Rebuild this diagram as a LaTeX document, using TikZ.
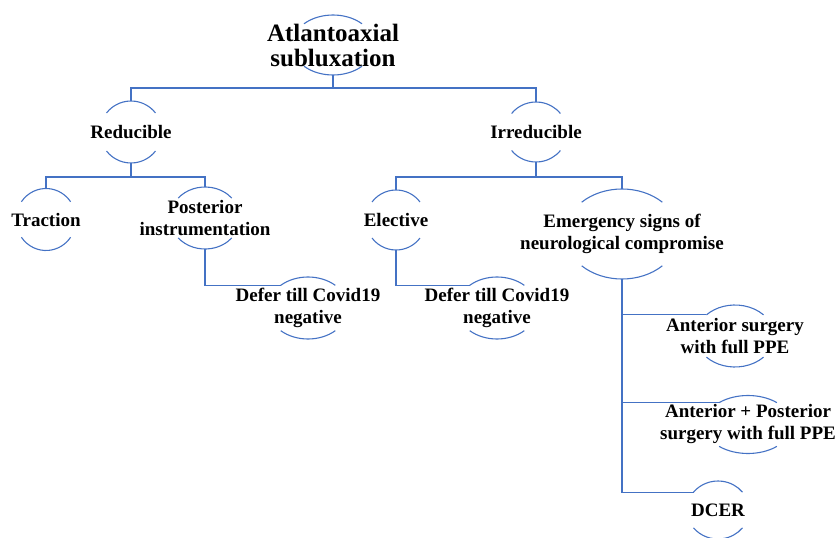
\documentclass[tikz,border=0pt]{standalone}
\usepackage{fontspec}
\setmainfont{Liberation Serif}
\definecolor{lineblue}{HTML}{4472C4}
\tikzset{
  conn/.style={draw=lineblue, line width=1.1pt},
  arcline/.style={draw=lineblue, line width=1.1pt},
  txt/.style={inner sep=0pt, align=center, font=\bfseries\fontsize{19}{22}\selectfont, text=black},
  bigtxt/.style={txt, font=\bfseries\fontsize{25}{25}\selectfont}
}
% #1 name, #2 cx, #3 cy (down), #4 rx, #5 ry, #6 angle, #7 style, #8 text
\newcommand\bubble[8]{%
  \coordinate (#1-t) at (#2,{-#3+#5});
  \coordinate (#1-b) at (#2,{-#3-#5});
  \coordinate (#1-l) at ({#2-#4*cos(#6)},{-#3+#5*sin(#6)});
  \coordinate (#1-bl) at ({#2-#4*cos(#6)},{-#3-#5*sin(#6)});
  \draw[arcline] (#1-l) arc[start angle=180-#6, end angle=#6, x radius=#4pt, y radius=#5pt];
  \draw[arcline] (#1-bl) arc[start angle=180+#6, end angle=360-#6, x radius=#4pt, y radius=#5pt];
  \node[#7] (#1) at (#2,-#3) {#8};
}
\begin{document}
\begin{tikzpicture}[x=1pt,y=1pt]
\useasboundingbox (0,0) rectangle (839,-538);
\bubble{root}{333}{45}{41}{30}{45}{bigtxt}{Atlantoaxial\\subluxation}
\bubble{red}{131}{132}{31}{31}{38}{txt}{Reducible}
\bubble{irr}{536}{132}{31}{30}{38}{txt}{Irreducible}
\bubble{tra}{46}{219.5}{30}{31}{35}{txt}{Traction}
\bubble{post}{205}{218}{35}{31}{40}{txt}{Posterior\\instrumentation}
\bubble{ele}{396}{220}{30}{30}{37}{txt}{Elective}
\bubble{eme}{622}{234}{57}{45}{45}{txt}{Emergency signs of\\neurological compromise}
\bubble{def1}{308}{308}{40}{31}{47}{txt}{Defer till Covid19\\negative}
\bubble{def2}{497}{308}{40}{31}{47}{txt}{Defer till Covid19\\negative}
\bubble{ant1}{735}{336}{39}{31}{43}{txt}{Anterior surgery\\with full PPE}
\bubble{ant2}{748}{424.5}{44}{29}{49}{txt}{Anterior + Posterior\\surgery with full PPE}
\bubble{dcer}{718}{510}{31}{29}{38}{txt}{DCER}

\draw[conn] (root-b) -- ++(0,-13) -| (red-t);
\draw[conn] (root-b) -- ++(0,-13) -| (irr-t);
\draw[conn] (red-b) -- ++(0,-14) -| (tra-t);
\draw[conn] (red-b) -- ++(0,-14) -| (post-t);
\draw[conn] (irr-b) -- ++(0,-15) -| (ele-t);
\draw[conn] (irr-b) -- ++(0,-15) -| (eme-t);
\draw[conn] (post-b) |- (def1-l);
\draw[conn] (ele-b) |- (def2-l);
\draw[conn] (eme-b) |- (ant1-l);
\draw[conn] (eme-b) |- (ant2-l);
\draw[conn] (eme-b) |- (dcer-l);
\end{tikzpicture}
\end{document}
